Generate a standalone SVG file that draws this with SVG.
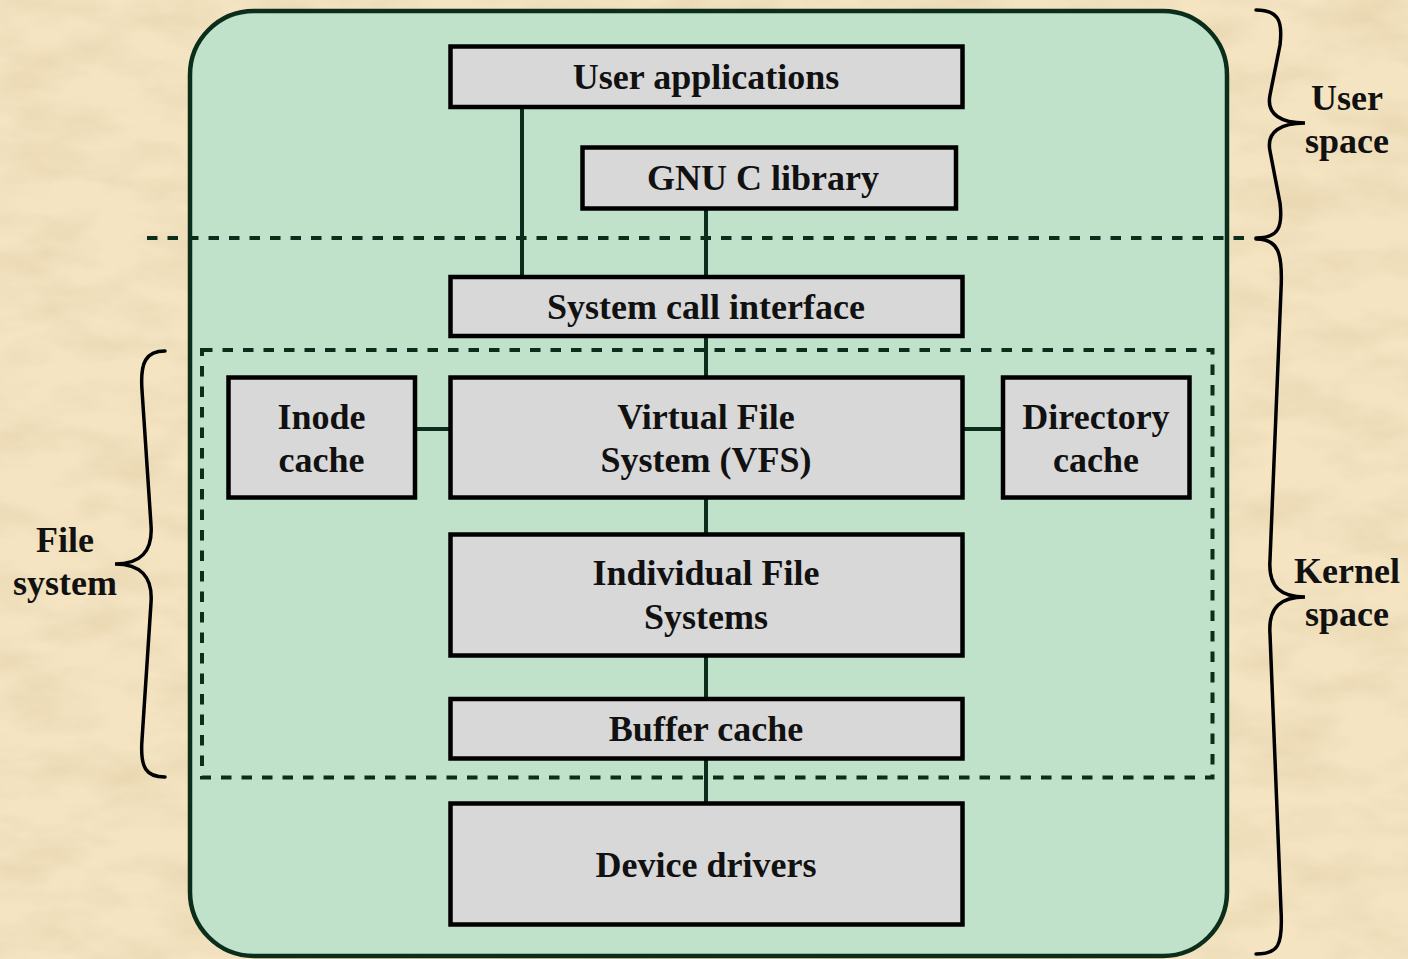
<svg xmlns="http://www.w3.org/2000/svg" width="1408" height="959" viewBox="0 0 1408 959">
<defs>
<filter id="paper" x="0" y="0" width="100%" height="100%">
<feTurbulence type="fractalNoise" baseFrequency="0.012 0.028" numOctaves="4" seed="7"/>
<feColorMatrix type="matrix" values="0 0 0 0 0.74  0 0 0 0 0.6  0 0 0 0 0.36  1.0 0 0 0 -0.38"/>
</filter>
<style>
.box{fill:#d8d8d8;stroke:#000;stroke-width:4.5}
.conn{stroke:#0b2d1b;stroke-width:4;fill:none}
.dash{stroke:#0b2d1b;stroke-width:4;fill:none;stroke-dasharray:10.5 10}
.brace{stroke:#000;stroke-width:3.5;fill:none;stroke-linecap:round}
text{font-family:"Liberation Serif","Times New Roman",serif;font-weight:bold;font-size:36px;fill:#111;text-anchor:middle}
</style>
</defs>
<rect x="0" y="0" width="1408" height="959" fill="#f4e4c2"/>
<rect x="0" y="0" width="1408" height="959" filter="url(#paper)"/>

<g id="kernel-frame">
<rect x="190" y="11" width="1037" height="945" rx="64" ry="64" fill="#c0e2ca" stroke="#0b2d1b" stroke-width="4.5"/>
</g>

<g id="separators">
<line class="dash" x1="147" y1="238" x2="1252" y2="238"/>
<rect class="dash" x="202" y="350" width="1010.5" height="427.5"/>
</g>

<g id="connectors">
<line class="conn" x1="522" y1="107" x2="522" y2="277"/>
<line class="conn" x1="706" y1="209" x2="706" y2="277"/>
<line class="conn" x1="706" y1="336" x2="706" y2="377"/>
<line class="conn" x1="415" y1="429" x2="450" y2="429"/>
<line class="conn" x1="963" y1="429" x2="1003" y2="429"/>
<line class="conn" x1="706" y1="498" x2="706" y2="534"/>
<line class="conn" x1="706" y1="656" x2="706" y2="699"/>
<line class="conn" x1="706" y1="759" x2="706" y2="803"/>
</g>

<g id="user-applications">
<rect class="box" x="450.5" y="46.5" width="512" height="60.5"/>
<text x="706" y="89">User applications</text>
</g>
<g id="gnu-c-library">
<rect class="box" x="582.5" y="147.5" width="373.5" height="61"/>
<text x="763" y="190">GNU C library</text>
</g>
<g id="system-call-interface">
<rect class="box" x="450.5" y="277" width="512" height="59"/>
<text x="706" y="319">System call interface</text>
</g>
<g id="inode-cache">
<rect class="box" x="228.5" y="377.5" width="186.5" height="120"/>
<text x="321.5" y="429">Inode</text>
<text x="321.5" y="472">cache</text>
</g>
<g id="vfs">
<rect class="box" x="450.5" y="377.5" width="512" height="120"/>
<text x="706" y="429">Virtual File</text>
<text x="706" y="472">System (VFS)</text>
</g>
<g id="directory-cache">
<rect class="box" x="1003" y="377.5" width="186.5" height="120"/>
<text x="1096" y="429">Directory</text>
<text x="1096" y="472">cache</text>
</g>
<g id="individual-fs">
<rect class="box" x="450.5" y="534.5" width="512" height="121"/>
<text x="706" y="585">Individual File</text>
<text x="706" y="629">Systems</text>
</g>
<g id="buffer-cache">
<rect class="box" x="450.5" y="699" width="512" height="59.5"/>
<text x="706" y="741">Buffer cache</text>
</g>
<g id="device-drivers">
<rect class="box" x="450.5" y="803.5" width="512" height="121"/>
<text x="706" y="877">Device drivers</text>
</g>

<g id="user-space">
<path class="brace" d="M1256,10 C1278,10 1283,20 1280,45 L1270,95 C1266,115 1282,123 1305,123 C1282,123 1266,131 1270,151 L1280,203 C1283,228 1278,238 1256,238"/>
<text x="1347" y="110">User</text>
<text x="1347" y="153">space</text>
</g>
<g id="kernel-space">
<path class="brace" d="M1256,239 C1278,239 1283,252 1281,290 L1270,560 C1268,588 1282,597 1305,597 C1282,597 1268,606 1270,634 L1281,910 C1283,946 1278,954 1256,954"/>
<text x="1347" y="583">Kernel</text>
<text x="1347" y="626">space</text>
</g>
<g id="file-system">
<path class="brace" d="M165,351 C146,351 140,362 142,390 L151,525 C153,552 140,564 115,564 C140,564 153,576 151,603 L142,740 C140,768 146,777 165,777"/>
<text x="65" y="552">File</text>
<text x="65" y="595">system</text>
</g>
</svg>
